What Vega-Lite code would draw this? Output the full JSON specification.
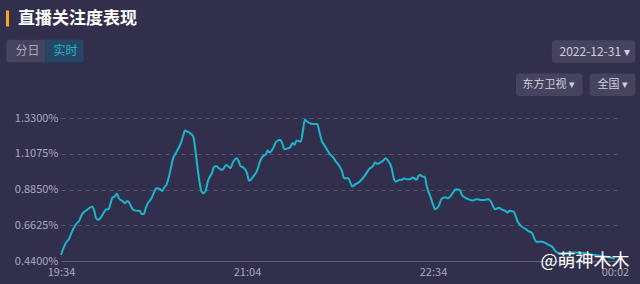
{
  "$schema": "https://vega.github.io/schema/vega-lite/v6.json",
  "width": 558,
  "height": 143,
  "autosize": {"type": "none"},
  "padding": {"left": 61, "top": 118, "right": 21, "bottom": 23},
  "background": "#322f4c",
  "config": {"view": {"stroke": null}, "font": "Noto Sans CJK SC", "legend": {"padding": 0, "symbolStrokeWidth": 0, "symbolOpacity": 1, "title": null}},
  "data": {"values": [
    {"time": "2022-12-31T19:34", "share": 0.478},
    {"time": "2022-12-31T19:36", "share": 0.545},
    {"time": "2022-12-31T19:38", "share": 0.581},
    {"time": "2022-12-31T19:39", "share": 0.613},
    {"time": "2022-12-31T19:41", "share": 0.664},
    {"time": "2022-12-31T19:43", "share": 0.696},
    {"time": "2022-12-31T19:44", "share": 0.727},
    {"time": "2022-12-31T19:46", "share": 0.753},
    {"time": "2022-12-31T19:47", "share": 0.762},
    {"time": "2022-12-31T19:49", "share": 0.778},
    {"time": "2022-12-31T19:50", "share": 0.758},
    {"time": "2022-12-31T19:51", "share": 0.706},
    {"time": "2022-12-31T19:52", "share": 0.696},
    {"time": "2022-12-31T19:53", "share": 0.706},
    {"time": "2022-12-31T19:55", "share": 0.747},
    {"time": "2022-12-31T19:56", "share": 0.762},
    {"time": "2022-12-31T19:57", "share": 0.762},
    {"time": "2022-12-31T19:58", "share": 0.800},
    {"time": "2022-12-31T19:59", "share": 0.837},
    {"time": "2022-12-31T20:00", "share": 0.841},
    {"time": "2022-12-31T20:01", "share": 0.858},
    {"time": "2022-12-31T20:02", "share": 0.831},
    {"time": "2022-12-31T20:04", "share": 0.810},
    {"time": "2022-12-31T20:05", "share": 0.800},
    {"time": "2022-12-31T20:06", "share": 0.814},
    {"time": "2022-12-31T20:07", "share": 0.803},
    {"time": "2022-12-31T20:08", "share": 0.778},
    {"time": "2022-12-31T20:09", "share": 0.758},
    {"time": "2022-12-31T20:11", "share": 0.752},
    {"time": "2022-12-31T20:12", "share": 0.753},
    {"time": "2022-12-31T20:13", "share": 0.733},
    {"time": "2022-12-31T20:14", "share": 0.733},
    {"time": "2022-12-31T20:15", "share": 0.768},
    {"time": "2022-12-31T20:16", "share": 0.800},
    {"time": "2022-12-31T20:17", "share": 0.816},
    {"time": "2022-12-31T20:18", "share": 0.837},
    {"time": "2022-12-31T20:19", "share": 0.866},
    {"time": "2022-12-31T20:20", "share": 0.893},
    {"time": "2022-12-31T20:22", "share": 0.887},
    {"time": "2022-12-31T20:23", "share": 0.876},
    {"time": "2022-12-31T20:24", "share": 0.899},
    {"time": "2022-12-31T20:25", "share": 0.914},
    {"time": "2022-12-31T20:26", "share": 0.955},
    {"time": "2022-12-31T20:27", "share": 1.007},
    {"time": "2022-12-31T20:28", "share": 1.069},
    {"time": "2022-12-31T20:30", "share": 1.121},
    {"time": "2022-12-31T20:32", "share": 1.174},
    {"time": "2022-12-31T20:33", "share": 1.215},
    {"time": "2022-12-31T20:34", "share": 1.252},
    {"time": "2022-12-31T20:35", "share": 1.246},
    {"time": "2022-12-31T20:36", "share": 1.240},
    {"time": "2022-12-31T20:38", "share": 1.215},
    {"time": "2022-12-31T20:39", "share": 1.132},
    {"time": "2022-12-31T20:40", "share": 1.028},
    {"time": "2022-12-31T20:41", "share": 0.934},
    {"time": "2022-12-31T20:42", "share": 0.872},
    {"time": "2022-12-31T20:43", "share": 0.862},
    {"time": "2022-12-31T20:44", "share": 0.878},
    {"time": "2022-12-31T20:45", "share": 0.934},
    {"time": "2022-12-31T20:47", "share": 0.987},
    {"time": "2022-12-31T20:48", "share": 1.024},
    {"time": "2022-12-31T20:49", "share": 1.032},
    {"time": "2022-12-31T20:51", "share": 1.011},
    {"time": "2022-12-31T20:52", "share": 1.007},
    {"time": "2022-12-31T20:54", "share": 1.038},
    {"time": "2022-12-31T20:55", "share": 1.028},
    {"time": "2022-12-31T20:56", "share": 1.018},
    {"time": "2022-12-31T20:57", "share": 1.049},
    {"time": "2022-12-31T20:59", "share": 1.080},
    {"time": "2022-12-31T21:00", "share": 1.059},
    {"time": "2022-12-31T21:01", "share": 1.028},
    {"time": "2022-12-31T21:02", "share": 1.024},
    {"time": "2022-12-31T21:04", "share": 0.987},
    {"time": "2022-12-31T21:05", "share": 0.940},
    {"time": "2022-12-31T21:07", "share": 0.965},
    {"time": "2022-12-31T21:09", "share": 1.007},
    {"time": "2022-12-31T21:10", "share": 1.049},
    {"time": "2022-12-31T21:12", "share": 1.096},
    {"time": "2022-12-31T21:13", "share": 1.101},
    {"time": "2022-12-31T21:14", "share": 1.127},
    {"time": "2022-12-31T21:15", "share": 1.115},
    {"time": "2022-12-31T21:17", "share": 1.152},
    {"time": "2022-12-31T21:18", "share": 1.180},
    {"time": "2022-12-31T21:20", "share": 1.194},
    {"time": "2022-12-31T21:21", "share": 1.174},
    {"time": "2022-12-31T21:22", "share": 1.136},
    {"time": "2022-12-31T21:24", "share": 1.142},
    {"time": "2022-12-31T21:25", "share": 1.149},
    {"time": "2022-12-31T21:26", "share": 1.174},
    {"time": "2022-12-31T21:27", "share": 1.163},
    {"time": "2022-12-31T21:28", "share": 1.190},
    {"time": "2022-12-31T21:30", "share": 1.183},
    {"time": "2022-12-31T21:31", "share": 1.246},
    {"time": "2022-12-31T21:32", "share": 1.319},
    {"time": "2022-12-31T21:33", "share": 1.308},
    {"time": "2022-12-31T21:35", "share": 1.294},
    {"time": "2022-12-31T21:36", "share": 1.292},
    {"time": "2022-12-31T21:38", "share": 1.292},
    {"time": "2022-12-31T21:39", "share": 1.246},
    {"time": "2022-12-31T21:40", "share": 1.194},
    {"time": "2022-12-31T21:42", "share": 1.149},
    {"time": "2022-12-31T21:44", "share": 1.107},
    {"time": "2022-12-31T21:46", "share": 1.080},
    {"time": "2022-12-31T21:47", "share": 1.059},
    {"time": "2022-12-31T21:48", "share": 1.045},
    {"time": "2022-12-31T21:50", "share": 0.997},
    {"time": "2022-12-31T21:51", "share": 0.955},
    {"time": "2022-12-31T21:53", "share": 0.955},
    {"time": "2022-12-31T21:54", "share": 0.928},
    {"time": "2022-12-31T21:55", "share": 0.903},
    {"time": "2022-12-31T21:56", "share": 0.914},
    {"time": "2022-12-31T21:58", "share": 0.928},
    {"time": "2022-12-31T22:00", "share": 0.955},
    {"time": "2022-12-31T22:02", "share": 0.990},
    {"time": "2022-12-31T22:03", "share": 1.011},
    {"time": "2022-12-31T22:05", "share": 1.032},
    {"time": "2022-12-31T22:06", "share": 1.053},
    {"time": "2022-12-31T22:07", "share": 1.045},
    {"time": "2022-12-31T22:08", "share": 1.049},
    {"time": "2022-12-31T22:10", "share": 1.065},
    {"time": "2022-12-31T22:11", "share": 1.080},
    {"time": "2022-12-31T22:12", "share": 1.069},
    {"time": "2022-12-31T22:14", "share": 1.018},
    {"time": "2022-12-31T22:15", "share": 0.955},
    {"time": "2022-12-31T22:16", "share": 0.934},
    {"time": "2022-12-31T22:18", "share": 0.945},
    {"time": "2022-12-31T22:19", "share": 0.945},
    {"time": "2022-12-31T22:20", "share": 0.955},
    {"time": "2022-12-31T22:21", "share": 0.949},
    {"time": "2022-12-31T22:23", "share": 0.949},
    {"time": "2022-12-31T22:24", "share": 0.959},
    {"time": "2022-12-31T22:25", "share": 0.955},
    {"time": "2022-12-31T22:26", "share": 0.945},
    {"time": "2022-12-31T22:27", "share": 0.970},
    {"time": "2022-12-31T22:28", "share": 0.976},
    {"time": "2022-12-31T22:29", "share": 0.965},
    {"time": "2022-12-31T22:30", "share": 0.965},
    {"time": "2022-12-31T22:31", "share": 0.903},
    {"time": "2022-12-31T22:33", "share": 0.831},
    {"time": "2022-12-31T22:34", "share": 0.793},
    {"time": "2022-12-31T22:35", "share": 0.762},
    {"time": "2022-12-31T22:37", "share": 0.789},
    {"time": "2022-12-31T22:38", "share": 0.825},
    {"time": "2022-12-31T22:40", "share": 0.837},
    {"time": "2022-12-31T22:41", "share": 0.831},
    {"time": "2022-12-31T22:42", "share": 0.837},
    {"time": "2022-12-31T22:44", "share": 0.872},
    {"time": "2022-12-31T22:45", "share": 0.887},
    {"time": "2022-12-31T22:47", "share": 0.882},
    {"time": "2022-12-31T22:48", "share": 0.851},
    {"time": "2022-12-31T22:50", "share": 0.831},
    {"time": "2022-12-31T22:52", "share": 0.820},
    {"time": "2022-12-31T22:53", "share": 0.816},
    {"time": "2022-12-31T22:55", "share": 0.825},
    {"time": "2022-12-31T22:57", "share": 0.820},
    {"time": "2022-12-31T22:59", "share": 0.820},
    {"time": "2022-12-31T23:01", "share": 0.825},
    {"time": "2022-12-31T23:02", "share": 0.810},
    {"time": "2022-12-31T23:03", "share": 0.783},
    {"time": "2022-12-31T23:04", "share": 0.762},
    {"time": "2022-12-31T23:06", "share": 0.772},
    {"time": "2022-12-31T23:07", "share": 0.762},
    {"time": "2022-12-31T23:09", "share": 0.752},
    {"time": "2022-12-31T23:10", "share": 0.741},
    {"time": "2022-12-31T23:11", "share": 0.752},
    {"time": "2022-12-31T23:13", "share": 0.747},
    {"time": "2022-12-31T23:14", "share": 0.720},
    {"time": "2022-12-31T23:15", "share": 0.685},
    {"time": "2022-12-31T23:17", "share": 0.654},
    {"time": "2022-12-31T23:19", "share": 0.638},
    {"time": "2022-12-31T23:20", "share": 0.627},
    {"time": "2022-12-31T23:22", "share": 0.613},
    {"time": "2022-12-31T23:23", "share": 0.581},
    {"time": "2022-12-31T23:24", "share": 0.560},
    {"time": "2022-12-31T23:27", "share": 0.560},
    {"time": "2022-12-31T23:28", "share": 0.554},
    {"time": "2022-12-31T23:30", "share": 0.540},
    {"time": "2022-12-31T23:32", "share": 0.525},
    {"time": "2022-12-31T23:33", "share": 0.504},
    {"time": "2022-12-31T23:35", "share": 0.488},
    {"time": "2022-12-31T23:36", "share": 0.487},
    {"time": "2022-12-31T23:40", "share": 0.493},
    {"time": "2022-12-31T23:43", "share": 0.493},
    {"time": "2022-12-31T23:47", "share": 0.490},
    {"time": "2022-12-31T23:49", "share": 0.484},
    {"time": "2022-12-31T23:54", "share": 0.474},
    {"time": "2022-12-31T23:58", "share": 0.466},
    {"time": "2023-01-01T00:02", "share": 0.456}
  ]},
  "layer": [
    {
      "mark": {"type": "line", "strokeWidth": 2, "interpolate": "monotone", "color": "#1ab6ca"},
      "encoding": {
        "x": {
          "field": "time", "type": "temporal",
          "scale": {"domain": [{"year": 2022, "month": 12, "date": 31, "hours": 19, "minutes": 34}, {"year": 2023, "month": 1, "date": 1, "hours": 0, "minutes": 4}]},
          "axis": {
            "values": [
              {"year": 2022, "month": 12, "date": 31, "hours": 19, "minutes": 34},
              {"year": 2022, "month": 12, "date": 31, "hours": 21, "minutes": 4},
              {"year": 2022, "month": 12, "date": 31, "hours": 22, "minutes": 34},
              {"year": 2023, "month": 1, "date": 1, "hours": 0, "minutes": 2}
            ],
            "format": "%H:%M", "grid": false, "ticks": false,
            "domainColor": "#625f7d", "domainWidth": 1,
            "labelColor": "#a9a7bc", "labelFontSize": 11, "labelPadding": 5,
            "labelFlush": false, "labelOverlap": false,
            "zindex": 1,
            "title": "@萌神木木", "titleX": 479, "titleY": 0,
            "titleAlign": "left", "titleBaseline": "middle",
            "titleColor": "#ffffff", "titleFontSize": 18, "titleFontWeight": "normal"
          }
        },
        "y": {
          "field": "share", "type": "quantitative",
          "scale": {"domain": [0.44, 1.33], "nice": false, "zero": false},
          "axis": {
            "values": [0.44, 0.6625, 0.885, 1.1075, 1.33],
            "labelExpr": "format(datum.value, '.4f') + '%'",
            "grid": true, "gridColor": "#57546f", "gridDash": [4, 4], "gridWidth": 1,
            "domain": false, "ticks": false, "title": null,
            "labelColor": "#a9a7bc", "labelFontSize": 11, "labelPadding": 3
          }
        }
      }
    },
    {
      "data": {"values": [{"control": "直播关注度表现"}]},
      "mark": {"type": "point", "filled": true, "opacity": 0, "size": 256, "shape": "M-0.19,-1H0.19V1H-0.19Z"},
      "encoding": {
        "color": {"field": "control", "type": "nominal", "scale": {"range": ["#f5a623"]},
          "legend": {"orient": "none", "legendX": -62, "legendY": -108, "symbolType": "M-0.19,-1H0.19V1H-0.19Z", "symbolSize": 256,
            "labelOffset": 2, "labelColor": "#ffffff", "labelFontSize": 17, "labelFontWeight": "bold"}}
      }
    },
    {
      "data": {"values": [{"control": "分日"}]},
      "mark": {"type": "point", "filled": true, "opacity": 0, "size": 506, "shape": "M-1.46,-1H1.73V1H-1.46Q-1.73,1,-1.73,0.73V-0.73Q-1.73,-1,-1.46,-1Z"},
      "encoding": {
        "color": {"field": "control", "type": "nominal", "scale": {"range": ["#46435f"]},
          "legend": {"orient": "none", "legendX": -46.75, "legendY": -78.5, "symbolType": "M-1.46,-1H1.73V1H-1.46Q-1.73,1,-1.73,0.73V-0.73Q-1.73,-1,-1.46,-1Z", "symbolSize": 506,
            "labelOffset": -21.75, "labelColor": "#a9a7bc", "labelFontSize": 12}}
      }
    },
    {
      "data": {"values": [{"control": "实时"}]},
      "mark": {"type": "point", "filled": true, "opacity": 0, "size": 506, "shape": "M-1.70,-1H1.43Q1.70,-1,1.70,-0.73V0.73Q1.70,1,1.43,1H-1.70Z"},
      "encoding": {
        "color": {"field": "control", "type": "nominal", "scale": {"range": ["#254763"]},
          "legend": {"orient": "none", "legendX": -8, "legendY": -78.5, "symbolType": "M-1.70,-1H1.43Q1.70,-1,1.70,-0.73V0.73Q1.70,1,1.43,1H-1.70Z", "symbolSize": 506,
            "labelOffset": -22.45, "labelColor": "#1fb3cf", "labelFontSize": 12}}
      }
    },
    {
      "data": {"values": [{"control": "2022-12-31 ▾"}]},
      "mark": {"type": "point", "filled": true, "opacity": 0, "size": 506, "shape": "M-3.43,-1H3.43Q3.70,-1,3.70,-0.73V0.73Q3.70,1,3.43,1H-3.43Q-3.70,1,-3.70,0.73V-0.73Q-3.70,-1,-3.43,-1Z"},
      "encoding": {
        "color": {"field": "control", "type": "nominal", "scale": {"range": ["#46435f"]},
          "legend": {"orient": "none", "legendX": 521, "legendY": -78, "symbolType": "M-3.43,-1H3.43Q3.70,-1,3.70,-0.73V0.73Q3.70,1,3.43,1H-3.43Q-3.70,1,-3.70,0.73V-0.73Q-3.70,-1,-3.43,-1Z", "symbolSize": 506,
            "labelOffset": -45.5, "labelColor": "#cfcddc", "labelFontSize": 12}}
      }
    },
    {
      "data": {"values": [{"control": "东方卫视 ▾"}]},
      "mark": {"type": "point", "filled": true, "opacity": 0, "size": 506, "shape": "M-2.69,-1H2.69Q2.96,-1,2.96,-0.73V0.73Q2.96,1,2.69,1H-2.69Q-2.96,1,-2.96,0.73V-0.73Q-2.96,-1,-2.69,-1Z"},
      "encoding": {
        "color": {"field": "control", "type": "nominal", "scale": {"range": ["#46435f"]},
          "legend": {"orient": "none", "legendX": 476.75, "legendY": -44.75, "symbolType": "M-2.69,-1H2.69Q2.96,-1,2.96,-0.73V0.73Q2.96,1,2.69,1H-2.69Q-2.96,1,-2.96,0.73V-0.73Q-2.96,-1,-2.69,-1Z", "symbolSize": 506,
            "labelOffset": -38.25, "labelColor": "#cfcddc", "labelFontSize": 11}}
      }
    },
    {
      "data": {"values": [{"control": "全国 ▾"}]},
      "mark": {"type": "point", "filled": true, "opacity": 0, "size": 506, "shape": "M-1.76,-1H1.76Q2.03,-1,2.03,-0.73V0.73Q2.03,1,1.76,1H-1.76Q-2.03,1,-2.03,0.73V-0.73Q-2.03,-1,-1.76,-1Z"},
      "encoding": {
        "color": {"field": "control", "type": "nominal", "scale": {"range": ["#46435f"]},
          "legend": {"orient": "none", "legendX": 540, "legendY": -44.75, "symbolType": "M-1.76,-1H1.76Q2.03,-1,2.03,-0.73V0.73Q2.03,1,1.76,1H-1.76Q-2.03,1,-2.03,0.73V-0.73Q-2.03,-1,-1.76,-1Z", "symbolSize": 506,
            "labelOffset": -26.45, "labelColor": "#cfcddc", "labelFontSize": 11}}
      }
    }
  ],
  "resolve": {"scale": {"color": "independent"}}
}
